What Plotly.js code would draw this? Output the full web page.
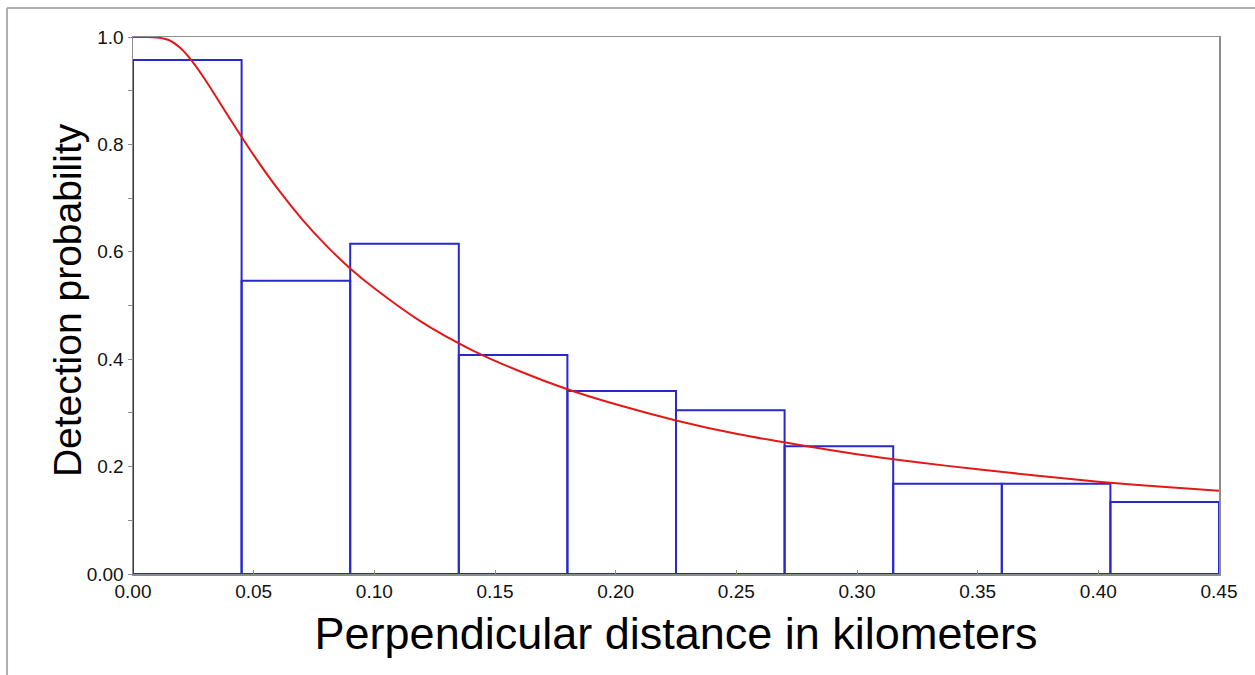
<!DOCTYPE html>
<html>
<head>
<meta charset="utf-8">
<script src="https://cdn.plot.ly/plotly-3.0.1.min.js"></script>
<style>html,body{margin:0;padding:0;background:#fff;}#chart{width:1255px;height:675px;}</style>
</head>
<body>
<div id="chart"></div>
<script>
// Histogram bins (perpendicular distance, km)
const binLeft = [0.000, 0.045, 0.090, 0.135, 0.180, 0.225, 0.270, 0.315, 0.360, 0.405];
const binWidth = [0.045, 0.045, 0.045, 0.045, 0.045, 0.045, 0.045, 0.045, 0.045, 0.045];
const binHeight = [0.957, 0.546, 0.615, 0.408, 0.341, 0.305, 0.238, 0.168, 0.168, 0.134];

// Fitted detection curve
const curveX = [0, 0.005, 0.01, 0.015, 0.02, 0.025, 0.03, 0.04, 0.05, 0.06, 0.07, 0.08, 0.09, 0.10,
  0.12, 0.14, 0.16, 0.18, 0.20, 0.225, 0.25, 0.275, 0.30, 0.325, 0.35, 0.375, 0.40, 0.425, 0.45];
const curveY = [1.0, 1.0, 0.999, 0.994, 0.978, 0.952, 0.92, 0.849, 0.78, 0.717, 0.661, 0.612, 0.569, 0.532,
  0.468, 0.418, 0.378, 0.344, 0.316, 0.286, 0.261, 0.241, 0.223, 0.208, 0.195, 0.183, 0.172, 0.163, 0.155];

const xTickVals = [0, 0.05, 0.10, 0.15, 0.20, 0.25, 0.30, 0.35, 0.40, 0.45];
const xTickText = ["0.00", "0.05", "0.10", "0.15", "0.20", "0.25", "0.30", "0.35", "0.40", "0.45"];
const yTickVals = [0, 0.2, 0.4, 0.6, 0.8, 1.0];
const yTickText = ["0.00", "0.2", "0.4", "0.6", "0.8", "1.0"];

const xTitle = "Perpendicular distance in kilometers";
const yTitle = "Detection probability";

const blue = "rgb(40,40,205)";
const red = "rgb(225,25,25)";

const bars = {
  type: "bar",
  x: binLeft,
  y: binHeight,
  width: binWidth,
  offset: 0,
  marker: {color: "rgba(0,0,0,0)", line: {color: blue, width: 2}},
  hoverinfo: "x+y",
  showlegend: false
};
const curve = {
  type: "scatter",
  mode: "lines",
  x: curveX,
  y: curveY,
  line: {color: red, width: 2, shape: "spline", smoothing: 0.8},
  showlegend: false
};

const grey = "rgb(140,140,140)";
const fontFam = "Liberation Sans, Arial, sans-serif";

const layout = {
  width: 1255, height: 675,
  margin: {l: 133, r: 36, t: 37, b: 101},
  paper_bgcolor: "#fff", plot_bgcolor: "#fff",
  bargap: 0,
  showlegend: false,
  font: {family: fontFam, color: "#111"},
  xaxis: {
    range: [0, 0.45],
    tickvals: xTickVals, ticktext: xTickText,
    ticks: "inside", ticklen: 4, tickcolor: grey, tickwidth: 1,
    showline: true, linecolor: grey, linewidth: 1.5, mirror: true,
    showgrid: false, zeroline: false,
    tickfont: {size: 19, family: fontFam, color: "#111"},
    title: {text: xTitle, font: {size: 45, family: fontFam, color: "#000"}, standoff: 16}
  },
  yaxis: {
    range: [0, 1.0],
    tickvals: yTickVals, ticktext: yTickText,
    ticks: "outside", ticklen: 4, tickcolor: grey, tickwidth: 1,
    minor: {dtick: 0.1, ticks: "outside", ticklen: 4, tickcolor: grey},
    showline: true, linecolor: grey, linewidth: 1.5, mirror: true,
    showgrid: false, zeroline: false,
    tickfont: {size: 19, family: fontFam, color: "#111"}
  },
  annotations: [
    {text: yTitle, xref: "paper", yref: "paper", x: -0.0608, y: 0.51, xanchor: "center", yanchor: "middle",
     textangle: -90, showarrow: false, font: {size: 39, family: fontFam, color: "#000"}}
  ],
  shapes: [
    {type: "line", xref: "paper", yref: "paper", x0: -0.116, x1: 1.04, y0: 1.054, y1: 1.054, line: {color: "rgb(175,175,175)", width: 2}},
    {type: "line", xref: "paper", yref: "paper", x0: -0.116, x1: -0.116, y0: 1.054, y1: -0.19, line: {color: "rgb(175,175,175)", width: 2}}
  ]
};

Plotly.newPlot("chart", [bars, curve], layout, {displayModeBar: false, staticPlot: true});
</script>
</body>
</html>
